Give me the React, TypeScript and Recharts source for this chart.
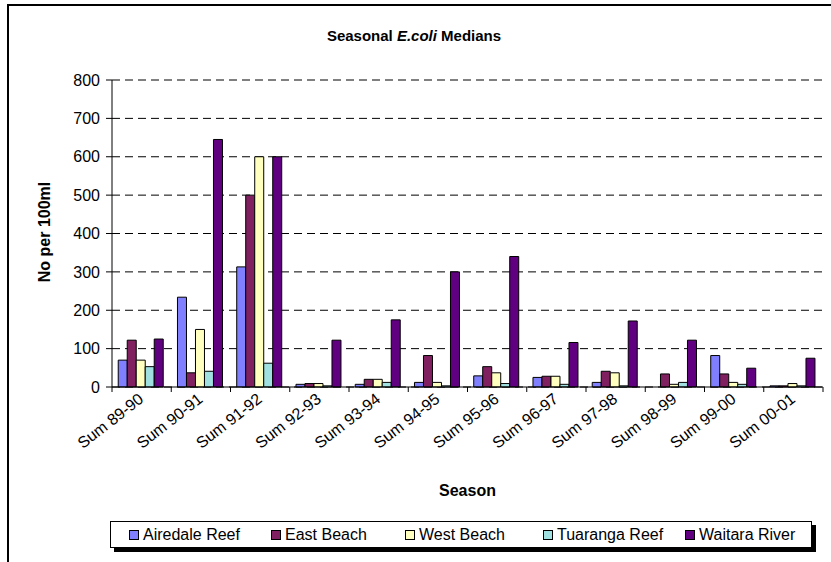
import React from 'react';
import { BarChart, Bar, XAxis, YAxis, CartesianGrid, Label } from 'recharts';

const seasons = ['Sum 89-90', 'Sum 90-91', 'Sum 91-92', 'Sum 92-93', 'Sum 93-94', 'Sum 94-95', 'Sum 95-96', 'Sum 96-97', 'Sum 97-98', 'Sum 98-99', 'Sum 99-00', 'Sum 00-01'];
const airedaleReef = [70, 234, 313, 7, 7, 12, 29, 25, 12, 0, 82, 3];
const eastBeach = [122, 37, 500, 9, 20, 82, 53, 28, 41, 34, 34, 3];
const westBeach = [70, 150, 600, 9, 20, 12, 37, 28, 37, 7, 12, 9];
const tuarangaReef = [53, 41, 62, 3, 12, 3, 9, 7, 3, 12, 7, 3];
const waitaraRiver = [125, 645, 600, 122, 175, 300, 340, 116, 172, 122, 49, 75];
const yTicks = [0, 100, 200, 300, 400, 500, 600, 700, 800];

const seriesNames = ['Airedale Reef', 'East Beach', 'West Beach', 'Tuaranga Reef', 'Waitara River'];
const seriesKeys = ['airedale', 'east', 'west', 'tuaranga', 'waitara'];
const seriesColors = ['#8080FF', '#802060', '#FFFFC0', '#A0E0E0', '#600080'];
const seriesValues = [airedaleReef, eastBeach, westBeach, tuarangaReef, waitaraRiver];

const data = seasons.map((s, i) => {
  const row: any = { season: s };
  seriesKeys.forEach((k, j) => { row[k] = seriesValues[j][i]; });
  return row;
});

const FONT = '"Liberation Sans", Arial, sans-serif';
const W = 831;
const H = 562;
const PLOT_LEFT = 112;
const PLOT_RIGHT = 823;
const PLOT_TOP = 80;
const PLOT_BOTTOM = 387;
const HALF_BAND = (PLOT_RIGHT - PLOT_LEFT) / seasons.length / 2;

const XTick = (props: any) => {
  const { x, y, payload, index } = props;
  const half = HALF_BAND;
  const last = index === seasons.length - 1;
  const ax = x + 3;
  const ay = y + 14;
  return (
    <g>
      <line x1={x - half} y1={y} x2={x - half} y2={y + 5} stroke="#000" />
      {last && <line x1={x + half} y1={y} x2={x + half} y2={y + 5} stroke="#000" />}
      <text
        x={ax}
        y={ay}
        transform={`rotate(-38 ${ax} ${ay})`}
        textAnchor="end"
        fontSize={16}
        fontFamily={FONT}
        fill="#000"
      >
        {payload.value}
      </text>
    </g>
  );
};

const legendLefts = [128, 270, 404, 542, 684];

export default function App() {
  return (
    <div style={{ position: 'fixed', left: 0, top: 0, width: W, height: H, overflow: 'hidden', background: '#fff', fontFamily: FONT }}>
      <div style={{ position: 'absolute', left: 7, top: 4, width: W - 7, height: H - 4, borderTop: '2px solid #000', borderLeft: '2px solid #000', boxSizing: 'border-box' }} />
      <div style={{ position: 'absolute', left: 0, top: 27, width: 828, textAlign: 'center', fontSize: 15, lineHeight: '18px', fontWeight: 'bold', color: '#000' }}>
        Seasonal <i>E.coli</i> Medians
      </div>
      <div style={{ position: 'absolute', left: 0, top: 0 }}>
        <BarChart
          width={W}
          height={H}
          data={data}
          margin={{ top: PLOT_TOP, right: W - PLOT_RIGHT, left: 0, bottom: 0 }}
          barCategoryGap="10.5%"
          barGap={0}
        >
          <CartesianGrid vertical={false} stroke="#000" strokeDasharray="8 5" />
          <XAxis
            dataKey="season"
            interval={0}
            height={H - PLOT_BOTTOM}
            tickSize={0}
            tickMargin={0}
            tickLine={false}
            axisLine={{ stroke: '#000' }}
            tick={<XTick />}
          >
            <Label
              content={() => (
                <text x={(PLOT_LEFT + PLOT_RIGHT) / 2} y={496} textAnchor="middle" fontSize={16} fontWeight="bold" fontFamily={FONT} fill="#000">
                  Season
                </text>
              )}
            />
          </XAxis>
          <YAxis
            domain={[0, 800]}
            ticks={yTicks}
            interval={0}
            width={PLOT_LEFT}
            tickSize={6}
            tickMargin={6}
            axisLine={{ stroke: '#000' }}
            tickLine={{ stroke: '#000' }}
            tick={{ fontSize: 16, fontFamily: FONT, fill: '#000' }}
          >
            <Label
              content={() => (
                <text x={44} y={232} transform="rotate(-90 44 232)" textAnchor="middle" dominantBaseline="central" fontSize={16} fontWeight="bold" fontFamily={FONT} fill="#000">
                  No per 100ml
                </text>
              )}
            />
          </YAxis>
          <YAxis yAxisId="r" orientation="right" width={0} domain={[0, 800]} tick={false} tickLine={false} axisLine={{ stroke: '#999' }} />
          {seriesKeys.map((k, j) => (
            <Bar key={k} dataKey={k} name={seriesNames[j]} fill={seriesColors[j]} stroke="#000" strokeWidth={1} isAnimationActive={false} />
          ))}
        </BarChart>
      </div>
      <div style={{ position: 'absolute', left: 110, top: 521, width: 702, height: 27, border: '1px solid #000', boxShadow: '4px 4px 0 #000', boxSizing: 'border-box', background: '#fff' }}>
        {seriesNames.map((n, j) => (
          <div key={n} style={{ position: 'absolute', left: legendLefts[j] - 110, top: 4, display: 'flex', alignItems: 'center', fontSize: 16, lineHeight: '18px', whiteSpace: 'nowrap' }}>
            <span style={{ display: 'inline-block', width: 8, height: 8, background: seriesColors[j], border: '1px solid #000', marginRight: 4 }} />
            {n}
          </div>
        ))}
      </div>
    </div>
  );
}
